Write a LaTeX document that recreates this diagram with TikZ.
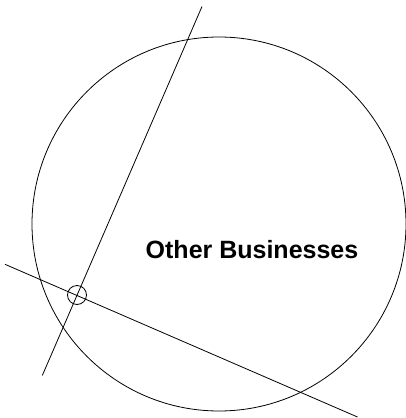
\documentclass[tikz,border=0pt]{standalone}
\usepackage{fontspec}
\setmainfont{Liberation Sans}
\usetikzlibrary{positioning}

\begin{document}
\begin{tikzpicture}[x=1pt,y=-1pt,
  line width=0.8pt,
  ring/.style={draw,circle,inner sep=0pt},
  lab/.style={font=\bfseries\fontsize{25}{30}\selectfont}]
\useasboundingbox (0,0) rectangle (406,418);
\node[ring,minimum size=374pt] (market) at (219,224) {};
\node[ring,minimum size=19pt] (cross) at (77,295) {};
\node[lab] (other) at (252,250) {Other Businesses};
\coordinate (upA) at (202,6.5);
\coordinate (upB) at (42.3,375.5);
\coordinate (lowA) at (5,264.3);
\coordinate (lowB) at (357.5,417);
\draw (upA) -- (upB);
\draw (lowA) -- (lowB);
\end{tikzpicture}
\end{document}
